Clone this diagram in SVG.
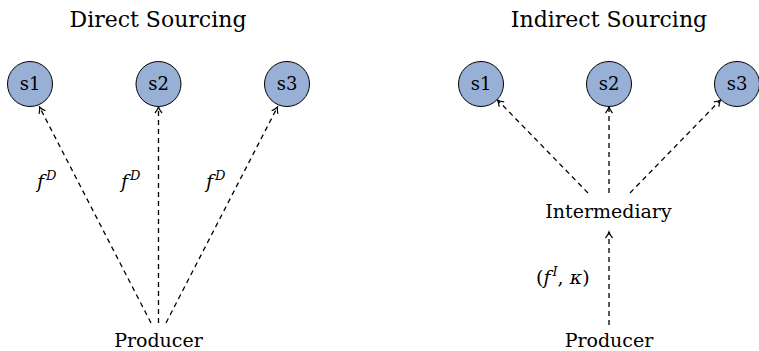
<svg xmlns="http://www.w3.org/2000/svg" width="759" height="351" viewBox="0 0 759 351">
<style>
text{font-size:19px;fill:#000;text-anchor:middle}
.t{font-size:22px}
.s{font-size:18px}
.m{font-style:italic}
.l{text-anchor:start}
.n{fill:#98b0d6;stroke:#000;stroke-width:1}
.e{fill:none;stroke:#000;stroke-width:1.3;stroke-dasharray:5,4;marker-end:url(#a)}
</style>
<defs>
<marker id="a" viewBox="0 0 10 10" refX="8" refY="5" markerWidth="10" markerHeight="10" markerUnits="userSpaceOnUse" orient="auto">
<path d="M2,1.5 Q5,4 8,5 Q5,6 2,8.5" fill="none" stroke="#000" stroke-width="1.2"/>
</marker>
</defs>
<text class="t" x="158" y="27" font-family="DejaVu Serif">Direct Sourcing</text>
<text class="t" x="609" y="27" font-family="DejaVu Serif">Indirect Sourcing</text>
<g id="connectors">
<line class="e" x1="151" y1="323" x2="39.5" y2="107"/>
<line class="e" x1="158.5" y1="323" x2="158.5" y2="107"/>
<line class="e" x1="166" y1="323" x2="277.5" y2="107"/>
<line class="e" x1="588" y1="193" x2="497.5" y2="100"/>
<line class="e" x1="609" y1="193" x2="609" y2="107"/>
<line class="e" x1="630" y1="193" x2="720.5" y2="100"/>
<line class="e" x1="609" y1="325" x2="609" y2="232"/>
</g>
<g id="l-s1"><circle class="n" cx="30" cy="84" r="22.5"/><text class="s" x="30" y="90" font-family="DejaVu Serif">s1</text></g>
<g id="l-s2"><circle class="n" cx="158.5" cy="84" r="22.5"/><text class="s" x="158.5" y="90" font-family="DejaVu Serif">s2</text></g>
<g id="l-s3"><circle class="n" cx="287" cy="84" r="22.5"/><text class="s" x="287" y="90" font-family="DejaVu Serif">s3</text></g>
<g id="l-producer"><text x="158.5" y="347" font-family="DejaVu Serif">Producer</text></g>
<g id="r-s1"><circle class="n" cx="481" cy="84" r="22.5"/><text class="s" x="481" y="90" font-family="DejaVu Serif">s1</text></g>
<g id="r-s2"><circle class="n" cx="609" cy="84" r="22.5"/><text class="s" x="609" y="90" font-family="DejaVu Serif">s2</text></g>
<g id="r-s3"><circle class="n" cx="737" cy="84" r="22.5"/><text class="s" x="737" y="90" font-family="DejaVu Serif">s3</text></g>
<g id="r-intermediary"><text x="608.5" y="218" font-family="DejaVu Serif">Intermediary</text></g>
<g id="r-producer"><text x="609" y="347" font-family="DejaVu Serif">Producer</text></g>
<g id="labels">
<text class="l" x="37" y="188" font-family="DejaVu Serif"><tspan class="m">f</tspan><tspan class="m" font-size="13" dx="2" dy="-8">D</tspan></text>
<text class="l" x="121" y="188" font-family="DejaVu Serif"><tspan class="m">f</tspan><tspan class="m" font-size="13" dx="2" dy="-8">D</tspan></text>
<text class="l" x="206" y="188" font-family="DejaVu Serif"><tspan class="m">f</tspan><tspan class="m" font-size="13" dx="2" dy="-8">D</tspan></text>
<text class="l" x="536" y="284" font-family="DejaVu Serif">(<tspan class="m">f</tspan><tspan class="m" font-size="13" dx="2" dy="-8">I</tspan><tspan dy="8">, </tspan><tspan class="m">κ</tspan>)</text>
</g>
</svg>
